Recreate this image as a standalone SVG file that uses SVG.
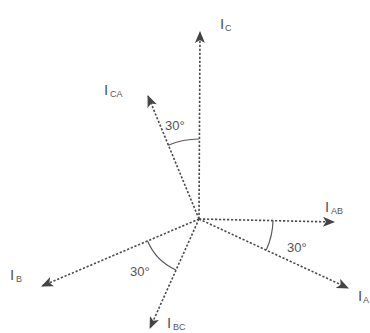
<svg xmlns="http://www.w3.org/2000/svg" width="370" height="333" viewBox="0 0 370 333">
<style>
.ln{stroke:#4a4a4a;stroke-width:1.6;stroke-dasharray:2.2 1.8;fill:none}
.arc{stroke:#5a5a5a;stroke-width:1.2;fill:none}
text{font-family:"Liberation Sans",Arial,sans-serif;fill:#555}
.m{font-size:15px}
.s{font-size:9px}
.d{font-size:13px}
</style>
<defs>
<marker id="ah" viewBox="0 0 12 10" refX="11" refY="5" markerWidth="13" markerHeight="10" markerUnits="userSpaceOnUse" orient="auto">
<path d="M0,0 L12,5 L0,10 L3,5 Z" fill="#444"/>
</marker>
</defs>
<rect width="370" height="333" fill="#fff"/>
<g id="connectors">
<line class="ln" x1="199" y1="219" x2="200" y2="32" marker-end="url(#ah)"/>
<line class="ln" x1="199" y1="219" x2="148" y2="96" marker-end="url(#ah)"/>
<line class="ln" x1="199" y1="219" x2="334" y2="222" marker-end="url(#ah)"/>
<line class="ln" x1="199" y1="219" x2="348" y2="288" marker-end="url(#ah)"/>
<line class="ln" x1="199" y1="219" x2="42" y2="286" marker-end="url(#ah)"/>
<line class="ln" x1="199" y1="219" x2="150" y2="328" marker-end="url(#ah)"/>
<path class="arc" d="M199,139 A80,80 0 0 0 168.1,145.2"/>
<path class="arc" d="M273,220.6 A74,74 0 0 1 266.3,249.9"/>
<path class="arc" d="M147.4,240.8 A56,56 0 0 0 175.9,270"/>
</g>
<g id="IC"><text x="220" y="29" class="m">I</text><text x="225" y="31" class="s">C</text></g>
<g id="ICA"><text x="104" y="95" class="m">I</text><text x="110" y="97" class="s">CA</text></g>
<g id="IAB"><text x="325" y="212" class="m">I</text><text x="331" y="214" class="s">AB</text></g>
<g id="IA"><text x="358" y="301" class="m">I</text><text x="363" y="303" class="s">A</text></g>
<g id="IB"><text x="10" y="280" class="m">I</text><text x="16" y="282" class="s">B</text></g>
<g id="IBC"><text x="167" y="328" class="m">I</text><text x="173" y="330" class="s">BC</text></g>
<g id="a1"><text x="165" y="130" class="d">30°</text></g>
<g id="a2"><text x="287" y="252" class="d">30°</text></g>
<g id="a3"><text x="130" y="276" class="d">30°</text></g>
</svg>
